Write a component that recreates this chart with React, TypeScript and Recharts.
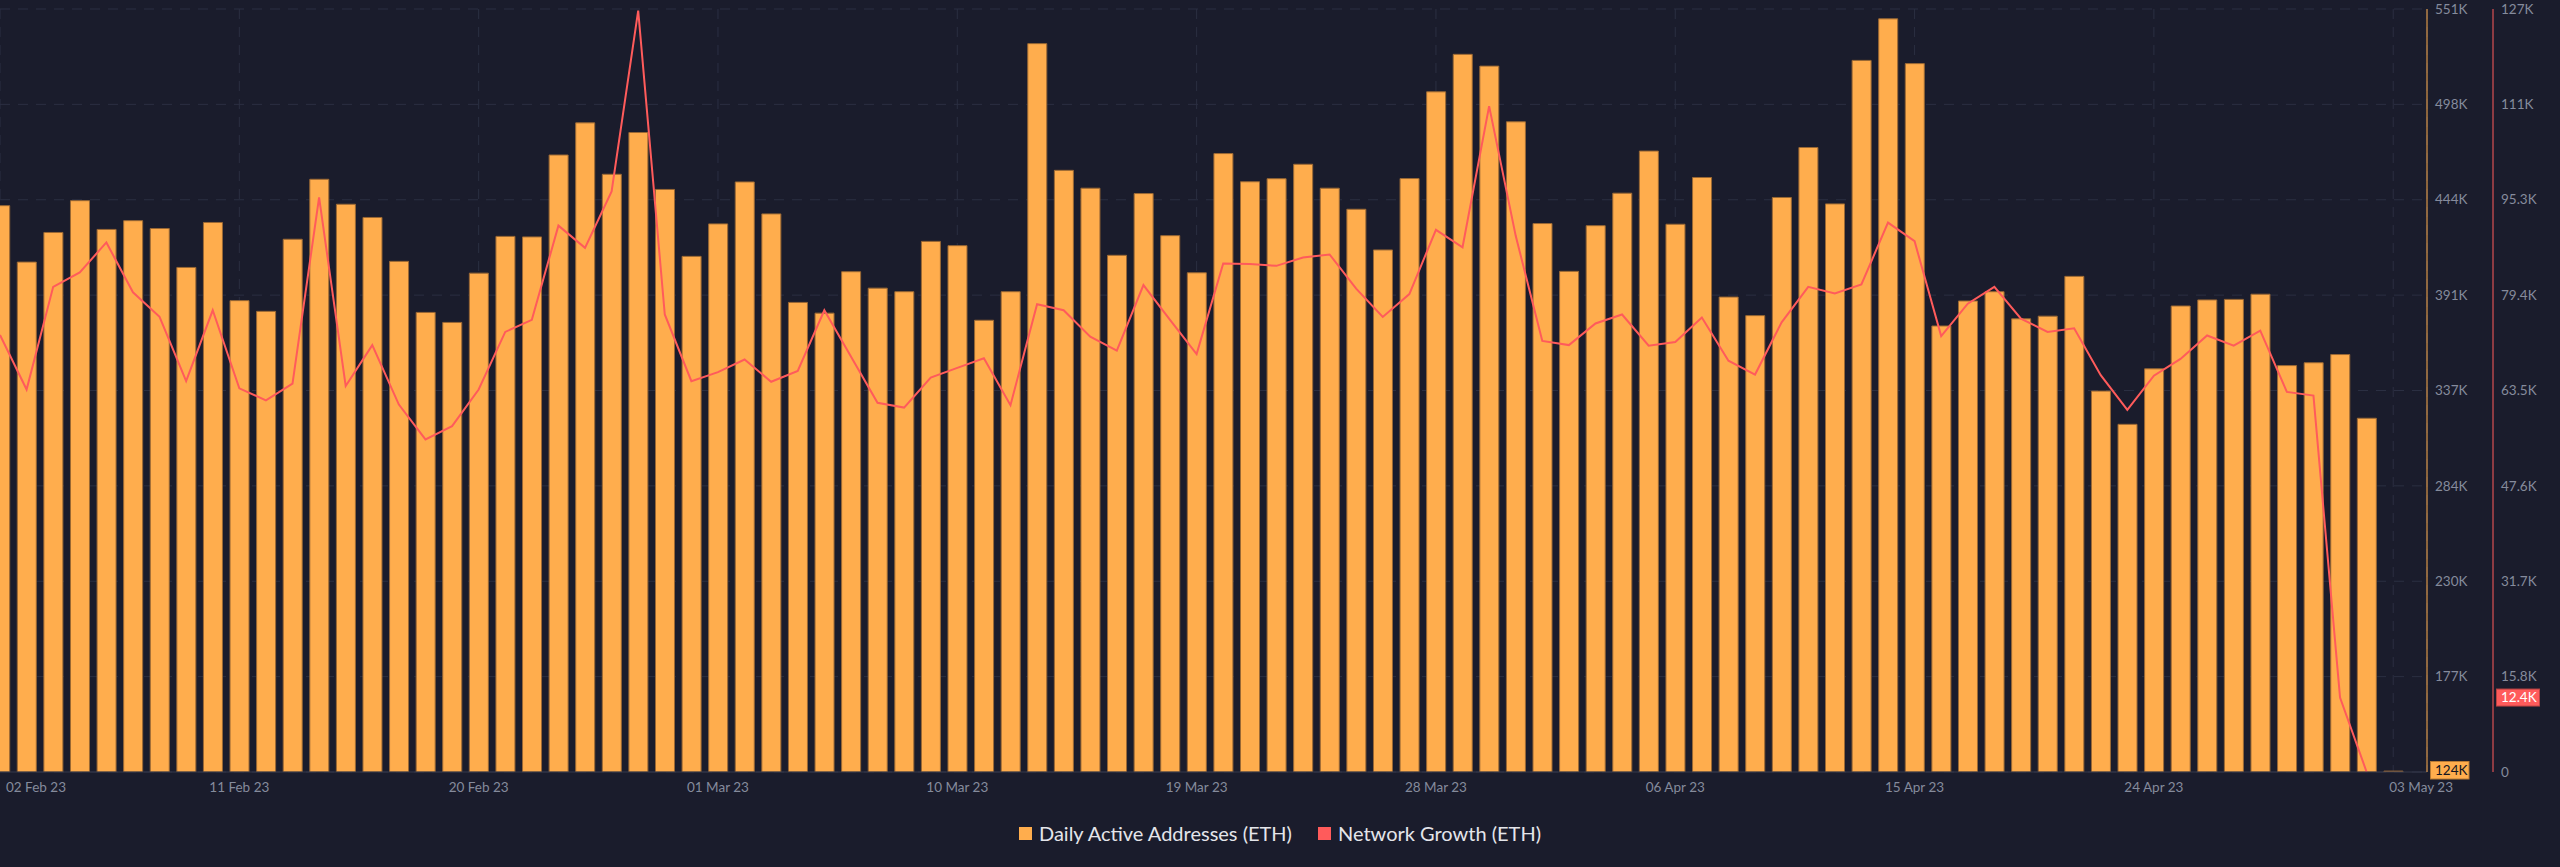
import React from "react";
import {
  ComposedChart,
  Bar,
  Line,
  XAxis,
  YAxis,
  CartesianGrid,
} from "recharts";

// Daily values from 02 Feb 23 (index 0) to 03 May 23 (index 90)
const dailyActiveK = [
  440.8, 409.2, 425.8, 443.6, 427.5, 432.4, 428.0, 406.2, 431.4, 387.6, 381.6,
  422.0, 455.6, 441.6, 434.2, 409.6, 381.0, 375.4, 403.0, 423.6, 423.3, 469.2,
  487.2, 458.4, 481.8, 449.9, 412.4, 430.6, 454.1, 436.2, 386.6, 380.6, 403.8,
  394.6, 392.6, 420.8, 418.4, 376.6, 392.6, 531.6, 460.6, 450.6, 413.0, 447.6,
  424.0, 403.2, 470.0, 454.2, 455.9, 464.0, 450.6, 438.8, 416.0, 456.0, 504.6,
  525.6, 519.0, 487.8, 430.8, 404.0, 429.6, 447.8, 471.4, 430.4, 456.6, 389.6,
  379.2, 445.4, 473.4, 441.8, 522.2, 545.5, 520.4, 373.4, 387.4, 392.6, 377.4,
  378.9, 401.2, 336.9, 318.3, 349.4, 384.6, 388.0, 388.3, 391.2, 351.2, 352.8,
  357.4, 321.7, 124.0,
];

const networkGrowthK = [
  72.8, 63.7, 80.8, 83.2, 88.2, 79.9, 75.8, 65.1, 76.9, 63.9, 61.9, 64.7, 95.7,
  64.3, 71.1, 61.2, 55.4, 57.6, 63.7, 73.3, 75.3, 91.0, 87.3, 96.7, 126.8, 76.2,
  65.1, 66.6, 68.7, 65.0, 66.8, 76.9, 69.2, 61.5, 60.7, 65.7, 67.3, 68.9, 61.1,
  77.9, 76.9, 72.5, 70.2, 81.1, 75.3, 69.6, 84.7, 84.6, 84.3, 85.7, 86.2, 80.5,
  75.8, 79.6, 90.3, 87.4, 110.9, 89.3, 71.8, 71.1, 74.7, 76.2, 71.0, 71.6, 75.7,
  68.5, 66.2, 74.9, 80.8, 79.7, 81.2, 91.5, 88.4, 72.6, 78.0, 80.8, 75.5, 73.3,
  73.9, 66.1, 60.3, 66.0, 68.8, 72.7, 71.0, 73.5, 63.3, 62.7, 12.4, 0,
];

const xTicks = [0, 9, 18, 27, 36, 45, 54, 63, 72, 81, 90];
const xTickLabels = [
  "02 Feb 23",
  "11 Feb 23",
  "20 Feb 23",
  "01 Mar 23",
  "10 Mar 23",
  "19 Mar 23",
  "28 Mar 23",
  "06 Apr 23",
  "15 Apr 23",
  "24 Apr 23",
  "03 May 23",
];

const daaTicks = [
  123500, 176938, 230375, 283813, 337250, 390688, 444125, 497563, 551000,
];
const daaTickLabels = ["124K", "177K", "230K", "284K", "337K", "391K", "444K", "498K", "551K"];

const growthTicks = [
  0, 12400, 15885, 31770, 47655, 63540, 79425, 95310, 111195, 127080,
];
const growthTickLabels = ["0", "12.4K", "15.8K", "31.7K", "47.6K", "63.5K", "79.4K", "95.3K", "111K", "127K"];

const data = dailyActiveK.map((v, i) => ({
  day: i,
  daa: v * 1000,
  growth: networkGrowthK[i] === undefined ? null : networkGrowthK[i] * 1000,
}));

const BG = "#1a1c2c";
const ORANGE = "#ffad4d";
const RED = "#ff5b5b";
const TICK = "#858b9c";
const GRID = "#2b2f42";
const FONT = "Lato, 'Open Sans', sans-serif";

const XTick = (props: any) => {
  const { x, y, payload } = props;
  const i = xTicks.indexOf(payload.value);
  const first = i === 0;
  const last = i === xTicks.length - 1;
  return (
    <text
      x={first ? x + 6 : last ? x - 4 : x}
      y={y + 12}
      textAnchor={first || last ? "start" : "middle"}
      fill={TICK}
      fontSize={13.5}
      fontFamily={FONT}
    >
      {xTickLabels[i]}
    </text>
  );
};

const DaaTick = (props: any) => {
  const { x, y, payload } = props;
  const i = daaTicks.indexOf(payload.value);
  if (i === 0) {
    // current value badge at the bottom of the axis
    return (
      <g>
        <rect x={x - 4.5} y={y - 10.5} width={38.5} height={17.5} fill={ORANGE} stroke="#b77a34" strokeWidth={1} />
        <text x={x} y={y - 1.7} dy="0.35em" fill="#15161f" fontSize={13.5} fontFamily={FONT}>
          {daaTickLabels[i]}
        </text>
      </g>
    );
  }
  return (
    <text x={x} y={y} dy="0.35em" fill={TICK} fontSize={13.5} fontFamily={FONT}>
      {daaTickLabels[i]}
    </text>
  );
};

const GrowthTick = (props: any) => {
  const { x, y, payload } = props;
  const i = growthTicks.indexOf(payload.value);
  if (i === 1) {
    return (
      <g>
        <rect x={x - 4.5} y={y - 8.5} width={43} height={17} fill={RED} stroke="#b84343" strokeWidth={1} />
        <text x={x} y={y} dy="0.35em" fill="#ffffff" fontSize={13.5} fontFamily={FONT}>
          {growthTickLabels[i]}
        </text>
      </g>
    );
  }
  return (
    <text x={x} y={y} dy="0.35em" fill={TICK} fontSize={13.5} fontFamily={FONT}>
      {growthTickLabels[i]}
    </text>
  );
};

const LegendItem = ({ color, label }: { color: string; label: string }) => (
  <div style={{ display: "flex", alignItems: "center", marginRight: 26 }}>
    <div style={{ width: 13, height: 13, background: color, marginRight: 7 }} />
    <span style={{ color: "#e4e5ea", fontSize: 20, fontFamily: FONT }}>{label}</span>
  </div>
);

const App: React.FC = () => {
  return (
    <div
      style={{
        position: "relative",
        width: 2560,
        height: 867,
        background: BG,
        overflow: "hidden",
      }}
    >
      <style>{`html, body { margin: 0; background: ${BG}; }`}</style>
      <ComposedChart
        width={2560}
        height={867}
        data={data}
        margin={{ top: 9, right: 0, bottom: 0, left: 0 }}
        style={{ position: "absolute", left: 0, top: 0 }}
      >
        <CartesianGrid yAxisId="daa" stroke={GRID} strokeDasharray="10 8" />
        <XAxis
          dataKey="day"
          type="number"
          domain={[0, 91.27]}
          ticks={xTicks}
          interval={0}
          allowDataOverflow
          height={95}
          tickLine={false}
          axisLine={{ stroke: "#34384a" }}
          tick={<XTick />}
        />
        <YAxis
          yAxisId="daa"
          orientation="right"
          width={66}
          domain={[123500, 551000]}
          ticks={daaTicks}
          interval={0}
          allowDataOverflow
          tickLine={false}
          axisLine={{ stroke: ORANGE }}
          tick={<DaaTick />}
        />
        <YAxis
          yAxisId="growth"
          orientation="right"
          width={67}
          domain={[0, 127080]}
          ticks={growthTicks}
          interval={0}
          allowDataOverflow
          tickLine={false}
          axisLine={{ stroke: RED }}
          tick={<GrowthTick />}
        />
        <Bar
          yAxisId="daa"
          dataKey="daa"
          fill={ORANGE}
          stroke="#9a6834"
          strokeWidth={1}
          barSize={19}
          isAnimationActive={false}
        />
        <Line
          yAxisId="growth"
          dataKey="growth"
          type="linear"
          stroke={RED}
          strokeWidth={2}
          dot={false}
          activeDot={false}
          isAnimationActive={false}
        />
      </ComposedChart>
      <div
        style={{
          position: "absolute",
          top: 821,
          left: 0,
          width: 2560,
          display: "flex",
          justifyContent: "center",
          paddingLeft: 26,
          boxSizing: "border-box",
        }}
      >
        <LegendItem color={ORANGE} label="Daily Active Addresses (ETH)" />
        <LegendItem color={RED} label="Network Growth (ETH)" />
      </div>
    </div>
  );
};

export default App;
